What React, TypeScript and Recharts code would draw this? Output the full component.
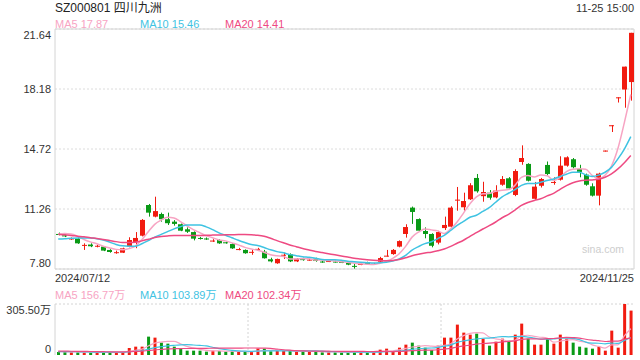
import { ComposedChart, Bar, Line, XAxis, YAxis, CartesianGrid, Cell } from "recharts";

// daily candles 2024/07/12 .. 2024/11/25 (90 sessions)
const open = [
  9.82, 9.74, 9.54, 9.55, 9.17, 9.21, 9.11, 9.09, 8.9, 8.74,
  8.74, 9.09, 9.36, 9.72, 11.49, 10.82, 10.97, 10.67, 10.53, 10.38,
  10.09, 9.93, 9.59, 9.56, 9.42, 9.47, 9.34, 9.24, 8.93, 8.9,
  8.77, 8.93, 8.8, 8.36, 8.13, 8.59, 8.65, 8.24, 8.37, 8.32,
  8.39, 8.23, 8.24, 8.23, 8.21, 8.15, 7.98, 8.07, 8.19, 8.08,
  8.22, 8.55, 8.66, 9.09, 9.82, 11.34, 10.68, 9.99, 9.82, 9.32,
  10.16, 10.24, 11.76, 11.36, 11.82, 13.05, 12.0, 12.2, 11.93, 12.66,
  13.03, 12.07, 13.97, 13.86, 11.85, 12.6, 13.8, 12.8, 12.95, 13.76,
  14.13, 13.57, 13.24, 12.57, 12.03, 14.63, 16.09, 17.7, 18.15, 18.58,
];
const high = [
  9.9, 9.78, 9.62, 9.62, 9.28, 9.28, 9.2, 9.12, 8.94, 8.86,
  9.03, 9.63, 9.93, 10.68, 11.55, 11.97, 11.05, 11.05, 10.62, 10.42,
  10.2, 9.97, 9.65, 9.62, 9.52, 9.52, 9.38, 9.28, 9.02, 8.93,
  8.9, 9.02, 8.9, 8.45, 8.4, 8.74, 8.7, 8.43, 8.45, 8.4,
  8.45, 8.28, 8.32, 8.28, 8.25, 8.18, 8.09, 8.14, 8.22, 8.15,
  8.5, 8.9, 8.95, 9.45, 10.38, 11.4, 10.72, 10.2, 9.86, 10.0,
  10.82, 11.42, 12.53, 12.2, 12.75, 13.28, 12.83, 12.35, 12.63, 13.16,
  13.1, 13.55, 14.93, 13.9, 12.82, 13.05, 14.0, 13.09, 14.3, 14.3,
  14.2, 13.81, 13.3, 12.74, 13.35, 14.63, 16.09, 17.7, 19.47, 21.42,
];
const low = [
  9.74, 9.64, 9.48, 9.25, 8.9, 9.06, 9.05, 8.83, 8.74, 8.68,
  8.72, 9.05, 9.0, 9.68, 10.82, 10.78, 10.53, 10.34, 10.3, 9.98,
  9.88, 9.45, 9.5, 9.48, 9.36, 9.25, 9.26, 8.96, 8.88, 8.68,
  8.62, 8.88, 8.4, 8.18, 8.1, 8.38, 8.2, 8.2, 8.28, 8.28,
  8.22, 8.16, 8.2, 8.17, 8.14, 8.02, 7.82, 8.02, 8.05, 8.04,
  8.2, 8.52, 8.62, 9.05, 9.61, 10.4, 9.98, 9.57, 9.05, 9.22,
  10.05, 10.2, 11.16, 11.16, 11.78, 12.2, 11.68, 11.8, 11.88, 12.6,
  12.38, 12.0, 13.81, 12.85, 11.8, 12.5, 13.2, 12.66, 12.9, 13.7,
  13.6, 13.09, 12.6, 11.98, 11.47, 14.63, 15.7, 17.4, 17.1, 17.51,
];
const close = [
  9.8, 9.68, 9.56, 9.28, 9.19, 9.11, 9.14, 8.86, 8.78, 8.77,
  8.99, 9.47, 9.59, 10.63, 11.05, 11.14, 10.67, 10.44, 10.4, 10.01,
  9.95, 9.55, 9.57, 9.52, 9.44, 9.28, 9.3, 8.99, 8.95, 8.71,
  8.79, 8.96, 8.42, 8.24, 8.38, 8.62, 8.24, 8.39, 8.35, 8.34,
  8.26, 8.22, 8.26, 8.21, 8.17, 8.05, 7.96, 8.09, 8.09, 8.1,
  8.43, 8.57, 8.9, 9.41, 10.22, 11.09, 10.01, 9.82, 9.14, 9.93,
  10.34, 11.34, 11.8, 11.72, 12.63, 12.28, 12.24, 11.91, 12.32, 12.99,
  12.45, 13.45, 14.2, 12.89, 12.55, 12.99, 13.28, 12.82, 13.76, 14.24,
  13.67, 13.4, 12.66, 12.03, 13.3, 14.63, 16.09, 17.7, 19.47, 21.42,
];
// volume, 万手
const volume = [
  18, 18, 16, 16, 16, 16, 16, 16, 16, 16,
  18, 42, 50, 50, 110, 104, 74, 68, 50, 42,
  26, 26, 26, 20, 26, 24, 20, 22, 18, 22,
  18, 38, 38, 22, 24, 24, 24, 20, 20, 20,
  22, 16, 16, 16, 16, 16, 18, 16, 16, 16,
  32, 38, 22, 44, 62, 74, 56, 44, 30, 56,
  104, 104, 182, 134, 122, 128, 98, 56, 80, 98,
  86, 122, 188, 98, 62, 62, 98, 68, 122, 98,
  74, 50, 44, 38, 50, 26, 146, 44, 305.5, 266,
];
// sessions before the window, only used to warm up the moving averages
const priorCloses = [
  10.3, 10.2, 10.15, 10.0, 10.1, 10.05, 9.95, 10.0, 10.05, 9.9,
  9.5, 9.3, 9.1, 9.2, 9.2, 9.45, 9.7, 9.95, 10.1,
];
const priorVolumes = [
  22, 26, 30, 24, 20, 28, 32, 26, 22, 24,
  20, 18, 22, 26, 24, 20, 18, 20, 22,
];

const priceTicks = [7.8, 11.26, 14.72, 18.18, 21.64];
const volumeTicks = [0, 305.5];
const startDate = "2024/07/12";
const endDate = "2024/11/25";

const RED = "#f11b10";
const GREEN = "#0a9a16";
const MA5_COLOR = "#f7a4c3";
const MA10_COLOR = "#3fc3e2";
const MA20_COLOR = "#ee4a82";
const FONT = "'Liberation Sans', Arial, 'Noto Sans CJK SC', sans-serif";

function movingAvg(values: number[], prior: number[], n: number) {
  const all = [...prior, ...values];
  return values.map((_, i) => {
    const end = prior.length + i + 1;
    const part = all.slice(Math.max(0, end - n), end);
    return part.reduce((a, b) => a + b, 0) / part.length;
  });
}

const ma5 = movingAvg(close, priorCloses, 5);
const ma10 = movingAvg(close, priorCloses, 10);
const ma20 = movingAvg(close, priorCloses, 20);
const vma5 = movingAvg(volume, priorVolumes, 5);
const vma10 = movingAvg(volume, priorVolumes, 10);
const vma20 = movingAvg(volume, priorVolumes, 20);

const data = close.map((c, i) => ({
  i,
  open: open[i],
  high: high[i],
  low: low[i],
  close: c,
  range: [low[i], high[i]],
  vol: volume[i],
  ma5: ma5[i],
  ma10: ma10[i],
  ma20: ma20[i],
  vma5: vma5[i],
  vma10: vma10[i],
  vma20: vma20[i],
}));

function Candle(props: any) {
  const { x, width, payload } = props;
  let { y, height } = props;
  if (height < 0) {
    y += height;
    height = -height;
  }
  const up = payload.close >= payload.open;
  const color = up ? RED : GREEN;
  const span = payload.high - payload.low;
  const k = span > 0 ? height / span : 0;
  const yOpen = y + (payload.high - payload.open) * k;
  const yClose = y + (payload.high - payload.close) * k;
  const top = Math.min(yOpen, yClose);
  const bodyH = Math.max(Math.abs(yOpen - yClose), 1);
  const cx = Math.round(x + width / 2) + 0.5;
  const bx = Math.round(x);
  return (
    <g>
      <line x1={cx} x2={cx} y1={y} y2={y + Math.max(height, 1)} stroke={color} strokeWidth={1} />
      <rect x={bx} y={top} width={Math.round(width)} height={bodyH} fill={color} />
    </g>
  );
}

function edgeTick(min: number, max: number, fmt: (v: number) => string) {
  return (props: any) => {
    const { x, y, payload } = props;
    const v = payload.value;
    const shift = v === max ? 6 : v === min ? -6 : 0;
    return (
      <text x={x} y={y + shift} dy={4} textAnchor="end" fontSize={11} fill="#333" fontFamily={FONT}>
        {fmt(v)}
      </text>
    );
  };
}

const Label = ({ left, right, cy, size = 11, color = "#333", children }: any) => (
  <div
    style={{
      position: "absolute",
      left,
      right,
      top: cy - 7,
      fontSize: size,
      lineHeight: "14px",
      color,
      whiteSpace: "nowrap",
      fontFamily: FONT,
    }}
  >
    {children}
  </div>
);

export default function App() {
  return (
    <div style={{ position: "absolute", left: 0, top: 0, width: 640, height: 360, background: "#fff", fontFamily: FONT }}>
      <div style={{ position: "absolute", left: 0, top: 0 }}>
        <ComposedChart width={640} height={272} data={data} margin={{ top: 29, right: 6, left: 5, bottom: 3 }}>
          <CartesianGrid stroke="#dcdcdc" strokeDasharray="2 2" vertical={false} />
          <CartesianGrid
            stroke="#d4d4d4"
            strokeDasharray=""
            horizontalCoordinatesGenerator={({ offset }: any) => [offset.top, offset.top + offset.height]}
            verticalCoordinatesGenerator={({ offset }: any) => [offset.left, offset.left + offset.width]}
          />
          <XAxis dataKey="i" hide />
          <YAxis
            domain={[7.8, 21.64]}
            ticks={priceTicks}
            interval={0}
            width={50}
            axisLine={false}
            tickLine={false}
            tickSize={0}
            tickMargin={4}
            tick={edgeTick(7.8, 21.64, (v) => v.toFixed(2))}
          />
          <Bar dataKey="range" barSize={5} shape={Candle} isAnimationActive={false} />
          <Line type="monotone" dataKey="ma5" stroke={MA5_COLOR} strokeWidth={1.5} dot={false} isAnimationActive={false} />
          <Line type="monotone" dataKey="ma10" stroke={MA10_COLOR} strokeWidth={1.5} dot={false} isAnimationActive={false} />
          <Line type="monotone" dataKey="ma20" stroke={MA20_COLOR} strokeWidth={1.5} dot={false} isAnimationActive={false} />
        </ComposedChart>
      </div>

      <div style={{ position: "absolute", left: 0, top: 300 }}>
        <ComposedChart width={640} height={60} data={data} margin={{ top: 4, right: 6, left: 5, bottom: 5 }}>
          <CartesianGrid
            stroke="#d4d4d4"
            strokeDasharray="2 2"
            horizontalCoordinatesGenerator={({ offset }: any) => [offset.top]}
            verticalCoordinatesGenerator={({ offset }: any) => [
              offset.left + offset.width / 3,
              offset.left + (offset.width * 2) / 3,
            ]}
          />
          <XAxis dataKey="i" hide />
          <YAxis
            domain={[0, 305.5]}
            ticks={volumeTicks}
            interval={0}
            width={50}
            axisLine={{ stroke: "#d4d4d4" }}
            tickLine={false}
            tickSize={0}
            tickMargin={4}
            tick={edgeTick(0, 305.5, (v) => (v === 0 ? "0" : v.toFixed(2) + "万"))}
          />
          <Bar dataKey="vol" barSize={3} isAnimationActive={false}>
            {data.map((d) => (
              <Cell key={d.i} fill={d.close >= d.open ? RED : GREEN} />
            ))}
          </Bar>
          <Line type="monotone" dataKey="vma5" stroke={MA5_COLOR} strokeWidth={1.2} dot={false} isAnimationActive={false} />
          <Line type="monotone" dataKey="vma10" stroke={MA10_COLOR} strokeWidth={1.2} dot={false} isAnimationActive={false} />
          <Line type="monotone" dataKey="vma20" stroke={MA20_COLOR} strokeWidth={1.2} dot={false} isAnimationActive={false} />
        </ComposedChart>
      </div>

      <div style={{ position: "absolute", left: 55, top: 0, fontSize: 12, lineHeight: "16px", color: "#222" }}>
        SZ000801 四川九洲
      </div>
      <Label right={6} cy={8}>11-25 15:00</Label>
      <Label left={55} cy={23.5} color={MA5_COLOR}>MA5 17.87</Label>
      <Label left={140} cy={23.5} color={MA10_COLOR}>MA10 15.46</Label>
      <Label left={225} cy={23.5} color={MA20_COLOR}>MA20 14.41</Label>
      <Label left={582} cy={249} size={10.5} color="#cdcdcd">sina.com</Label>
      <Label left={55} cy={278}>{startDate}</Label>
      <Label right={6} cy={278}>{endDate}</Label>
      <Label left={55} cy={294.5} color={MA5_COLOR}>MA5 156.77万</Label>
      <Label left={140} cy={294.5} color={MA10_COLOR}>MA10 103.89万</Label>
      <Label left={225} cy={294.5} color={MA20_COLOR}>MA20 102.34万</Label>
    </div>
  );
}
